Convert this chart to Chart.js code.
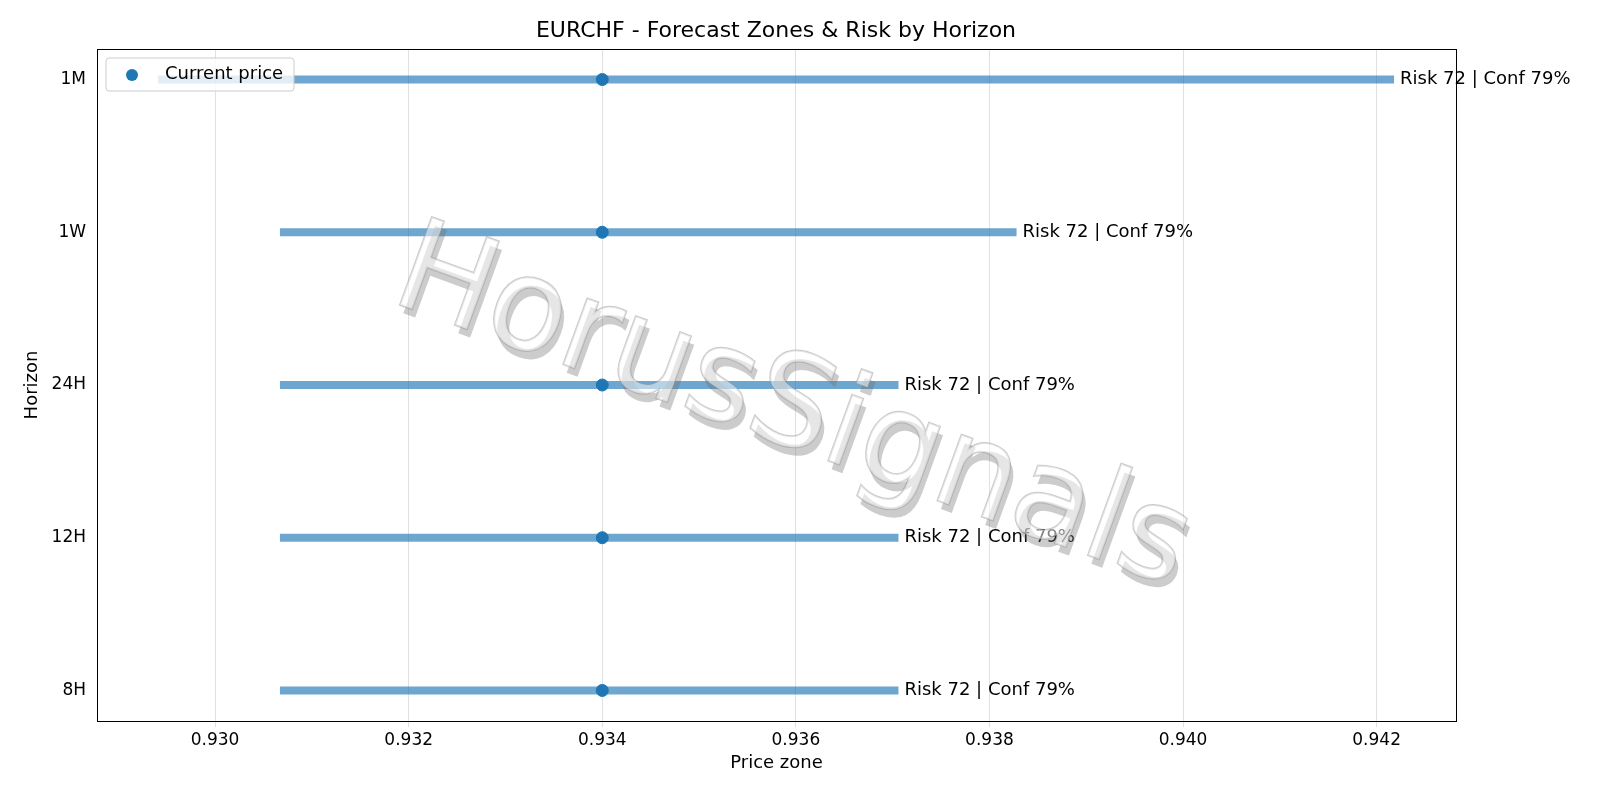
<!DOCTYPE html>
<html><head><script src="https://cdn.jsdelivr.net/npm/chart.js"></script>
<style>body{margin:0;background:#fff}</style></head>
<body><canvas id="c" width="1600" height="800" style="width:1600px;height:800px"></canvas>
<script>
const horizons=["1M","1W","24H","12H","8H"];
const lows=[0.92941,0.93067,0.93067,0.93067,0.93067];
const highs=[0.94218,0.93828,0.93706,0.93706,0.93706];
const current=[0.934,0.934,0.934,0.934,0.934];
const labels=["Risk 72 | Conf 79%","Risk 72 | Conf 79%","Risk 72 | Conf 79%","Risk 72 | Conf 79%","Risk 72 | Conf 79%"];
const xTicks=[0.930,0.932,0.934,0.936,0.938,0.940,0.942];
const F="'DejaVu Sans'";
const ds=horizons.map((h,i)=>({type:'scatter',showLine:true,data:[{x:lows[i],y:i},{x:highs[i],y:i}],borderColor:'rgba(31,119,180,0.65)',borderWidth:8,pointRadius:0,borderCapStyle:'butt'}));
ds.push({type:'scatter',data:current.map((v,i)=>({x:v,y:i})),backgroundColor:'#1f77b4',borderColor:'#1f77b4',pointRadius:6});
const plug={id:'p',
afterDraw(c){const g=c.ctx,a=c.chartArea,xs=c.scales.x,ys=c.scales.y;
g.save();
g.strokeStyle='#000';g.lineWidth=1;g.strokeRect(a.left+0.5,a.top+0.5,a.right-a.left,a.bottom-a.top);
g.fillStyle='#000';g.font='22px '+F;g.textAlign='center';g.textBaseline='middle';
g.fillText('EURCHF - Forecast Zones & Risk by Horizon',776,31);
g.font='18px '+F;g.textAlign='left';
horizons.forEach((h,i)=>g.fillText(labels[i],xs.getPixelForValue(highs[i])+6,ys.getPixelForValue(i)));
g.fillStyle='rgba(255,255,255,0.8)';g.strokeStyle='#ccc';
g.beginPath();g.roundRect(106,58,188,33,3);g.fill();g.stroke();
g.fillStyle='#1f77b4';g.beginPath();g.arc(132,75,6,0,7);g.fill();
g.fillStyle='#000';g.fillText('Current price',165,74);
g.translate(792,412);g.rotate(20*Math.PI/180);g.font='128px '+F;g.textAlign='center';
g.fillStyle='rgba(110,110,110,0.35)';g.fillText('HorusSignals',6,7);
g.fillStyle='rgba(255,255,255,0.5)';g.strokeStyle='rgba(150,150,150,0.5)';g.lineWidth=2;
g.strokeText('HorusSignals',0,0);g.fillText('HorusSignals',0,0);
g.restore();}};
new Chart(document.getElementById('c'),{data:{datasets:ds},plugins:[plug],
options:{responsive:false,animation:false,devicePixelRatio:1,layout:{padding:{top:49,right:144,left:18,bottom:22}},
plugins:{legend:{display:false},tooltip:{enabled:false}},
scales:{x:{type:'linear',min:0.92878,max:0.94282,afterBuildTicks(s){s.ticks=xTicks.map(v=>({value:v}));},
afterFit(s){s.height=57;},grid:{color:'#e0e0e0',drawTicks:true,tickLength:6},border:{display:false},
ticks:{color:'#000',font:{family:F,size:17},callback:v=>v.toFixed(3)},
title:{display:true,text:'Price zone',color:'#000',font:{family:F,size:18}}},
y:{type:'linear',reverse:true,min:-0.2,max:4.2,afterBuildTicks(s){s.ticks=horizons.map((h,i)=>({value:i}));},
afterFit(s){s.width=79;},grid:{display:false,drawTicks:true},border:{display:false},
ticks:{color:'#000',font:{family:F,size:17},callback:v=>horizons[v]},
title:{display:true,text:'Horizon',color:'#000',font:{family:F,size:18}}}}}});
</script></body></html>
